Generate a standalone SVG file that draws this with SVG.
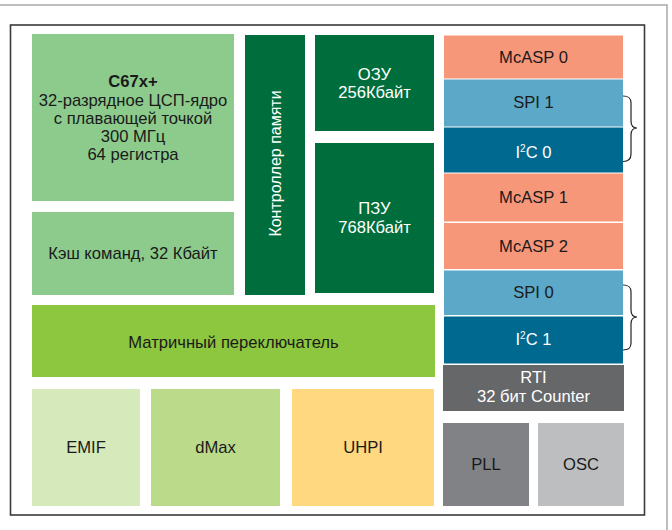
<svg xmlns="http://www.w3.org/2000/svg" width="672" height="530" viewBox="0 0 672 530">
<style>
text{font-family:"Liberation Sans","DejaVu Sans",sans-serif;font-size:16.6px;fill:#1a1a1a;text-anchor:middle}
.w{fill:#ffffff}
.b{font-weight:bold}
.brace{fill:none;stroke:#222;stroke-width:1.2}
</style>
<rect width="672" height="530" fill="#ffffff"/>
<path d="M0 5H667V530" fill="none" stroke="#a8a8a8" stroke-width="1.5"/>
<rect x="10.5" y="25" width="634" height="490" fill="none" stroke="#3a3a3a" stroke-width="1.6"/>

<g id="cpu"><rect x="32" y="34" width="202" height="167" fill="#8ccb8c"/>
<text x="133" y="87" class="b">C67x+</text>
<text x="133" y="105.5">32-разрядное ЦСП-ядро</text>
<text x="133" y="123.5">с плавающей точкой</text>
<text x="133" y="141.5">300 МГц</text>
<text x="133" y="160">64 регистра</text></g>
<g id="cache"><rect x="32" y="212" width="202" height="83" fill="#8ccb8c"/>
<text x="133" y="259">Кэш команд, 32 Кбайт</text></g>
<g id="memctl"><rect x="245" y="35" width="60" height="260" fill="#006e3c"/>
<text class="w" style="font-size:16px" transform="translate(281,163.5) rotate(-90)">Контроллер памяти</text></g>
<g id="ram"><rect x="315" y="35" width="119" height="96" fill="#006e3c"/>
<text class="w" x="374.5" y="80">ОЗУ</text><text class="w" x="374.5" y="98">256Кбайт</text></g>
<g id="rom"><rect x="315" y="143" width="119" height="150" fill="#006e3c"/>
<text class="w" x="374.5" y="214">ПЗУ</text><text class="w" x="374.5" y="232.5">768Кбайт</text></g>
<g id="xbar"><rect x="32" y="305" width="403" height="72" fill="#8dc63f"/>
<text x="233.5" y="347.5">Матричный переключатель</text></g>
<g id="emif"><rect x="32" y="389" width="108" height="117" fill="#d6e9ba"/>
<text x="86" y="453">EMIF</text></g>
<g id="dmax"><rect x="151" y="389" width="129" height="117" fill="#bbda8a"/>
<text x="215.5" y="453">dMax</text></g>
<g id="uhpi"><rect x="292" y="389" width="142" height="117" fill="#ffd87f"/>
<text x="363" y="453">UHPI</text></g>

<g id="mcasp0"><rect x="444" y="35.5" width="179" height="43" fill="#f7977a"/>
<text x="533.5" y="62.5">McASP 0</text></g>
<g id="spi1"><rect x="444" y="79.5" width="179" height="47" fill="#5ba8c8"/>
<text x="533.5" y="108">SPI 1</text></g>
<g id="i2c0"><rect x="444" y="127.5" width="179" height="45" fill="#006990"/>
<text class="w" x="533.5" y="158">I<tspan font-size="10" dy="-6">2</tspan><tspan dy="6">C 0</tspan></text></g>
<g id="mcasp1"><rect x="444" y="173.5" width="179" height="48" fill="#f7977a"/>
<text x="533.5" y="203">McASP 1</text></g>
<g id="mcasp2"><rect x="444" y="223" width="179" height="46" fill="#f7977a"/>
<text x="533.5" y="252">McASP 2</text></g>
<g id="spi0"><rect x="444" y="270.5" width="179" height="44.5" fill="#5ba8c8"/>
<text x="533.5" y="298">SPI 0</text></g>
<g id="i2c1"><rect x="444" y="316.5" width="179" height="47" fill="#006990"/>
<text class="w" x="533.5" y="345">I<tspan font-size="10" dy="-6">2</tspan><tspan dy="6">C 1</tspan></text></g>
<g id="rti"><rect x="443" y="365" width="181" height="46" fill="#666769"/>
<text class="w" x="533.5" y="383">RTI</text><text class="w" x="533.5" y="402">32 бит Counter</text></g>
<g id="pll"><rect x="443" y="423" width="86" height="83" fill="#808285"/>
<text x="486" y="470">PLL</text></g>
<g id="osc"><rect x="538" y="423" width="86" height="83" fill="#bcbec0"/>
<text x="581" y="470">OSC</text></g>

<g id="connectors">
<path class="brace" d="M623 96C629 96 631 98 631 103V121C631 126 633 128 637 128C633 128 631 130 631 135V154C631 159 629 161.5 623 161.5"/>
<path class="brace" d="M623 285C629 285 631 287 631 292V310C631 315 633 317 637 317C633 317 631 319 631 324V343C631 348 629 350 623 350"/>
</g>
</svg>
